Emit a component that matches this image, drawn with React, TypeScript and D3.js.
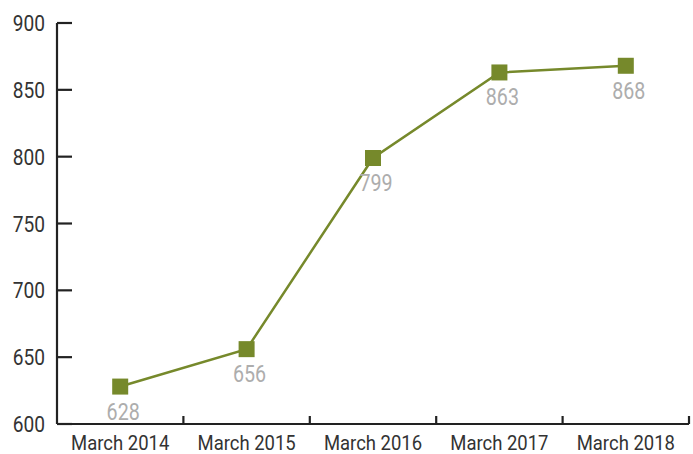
import React from "react";
import * as d3 from "d3";

const categories = ["March 2014", "March 2015", "March 2016", "March 2017", "March 2018"];
const values = [628, 656, 799, 863, 868];
const yTicks = [600, 650, 700, 750, 800, 850, 900];

const W = 693, H = 454;
const margin = { left: 57, right: 4, top: 23, bottom: 30 };
const font = "Roboto, 'Noto Sans', sans-serif";
const green = "#76892b";

function CText(props: { x: number; y: number; size: number; sx: number; anchor: string; fill: string; children: React.ReactNode }) {
  return (
    <text
      transform={`translate(${props.x},${props.y}) scale(${props.sx},1)`}
      textAnchor={props.anchor}
      fontFamily={font}
      fontSize={props.size}
      fill={props.fill}
    >
      {props.children}
    </text>
  );
}

export default function App() {
  const x = d3.scaleBand().domain(categories).range([margin.left, W - margin.right]);
  const y = d3.scaleLinear().domain([600, 900]).range([H - margin.bottom, margin.top]);
  const line = d3.line<number>()
    .x((_, i) => x(categories[i])! + x.bandwidth() / 2)
    .y((d) => y(d));
  const y0 = y(600);
  const bounds = [...categories.map((c) => x(c)!), W - margin.right];
  return (
    <svg width={W} height={H} style={{ position: "absolute", left: 0, top: 0, background: "#fff" }}>
      <g stroke="#222" strokeWidth={2.2} fill="none">
        <line x1={margin.left} x2={margin.left} y1={margin.top} y2={y0} />
        <line x1={margin.left} x2={W - margin.right} y1={y0} y2={y0} />
        {yTicks.map((t) => (
          <line key={t} x1={margin.left} x2={margin.left + 15} y1={y(t)} y2={y(t)} />
        ))}
        {bounds.slice(1).map((b, i) => (
          <line key={i} x1={b} x2={b} y1={y0} y2={y0 - 8} />
        ))}
      </g>
      {yTicks.map((t) => (
        <CText key={t} x={45} y={y(t) + 8} size={22} sx={0.87} anchor="end" fill="#333">
          {t}
        </CText>
      ))}
      {categories.map((c) => (
        <CText key={c} x={x(c)! + x.bandwidth() / 2} y={y0 + 25.5} size={21} sx={0.88} anchor="middle" fill="#333">
          {c}
        </CText>
      ))}
      <path d={line(values)!} fill="none" stroke={green} strokeWidth={2.5} />
      {values.map((v, i) => {
        const cx = x(categories[i])! + x.bandwidth() / 2;
        const cy = y(v);
        return (
          <g key={i}>
            <rect x={cx - 8} y={cy - 8} width={16} height={16} fill={green} />
            <CText x={cx + 3} y={cy + 33} size={24} sx={0.82} anchor="middle" fill="#adadad">
              {v}
            </CText>
          </g>
        );
      })}
    </svg>
  );
}
